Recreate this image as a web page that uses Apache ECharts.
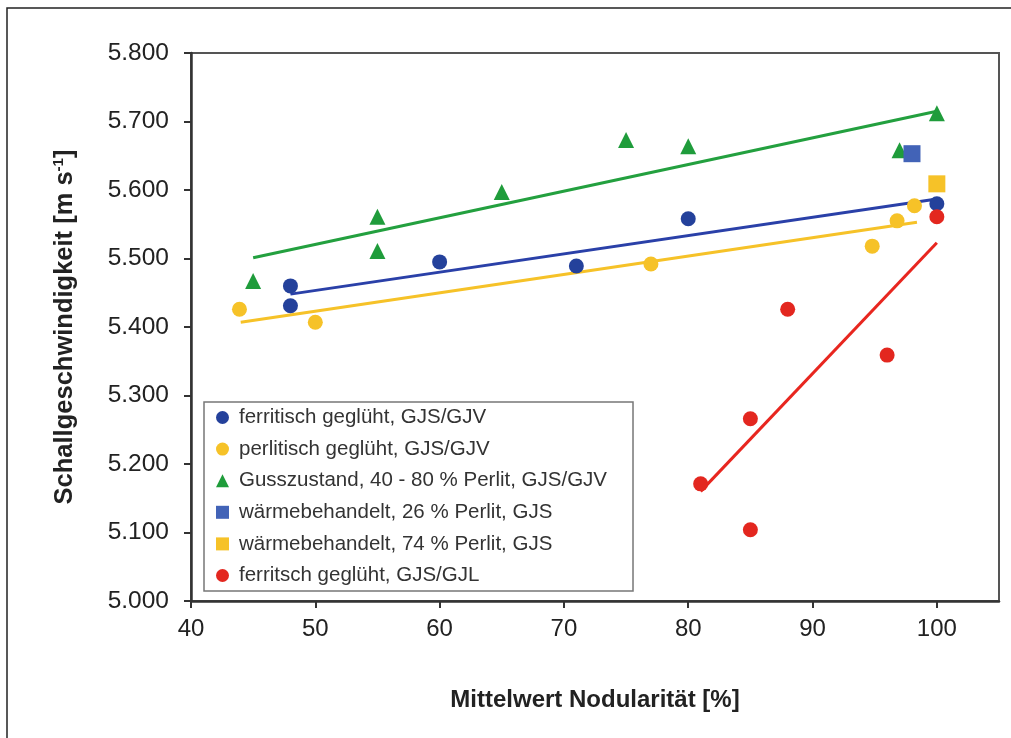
<!DOCTYPE html>
<html>
<head>
<meta charset="utf-8">
<script src="https://cdn.jsdelivr.net/npm/echarts@6/dist/echarts.min.js"></script>
<style>
  html, body { margin: 0; padding: 0; background: #fff; }
  #chart { width: 1011px; height: 738px; }
</style>
</head>
<body>
<div id="chart"></div>
<script>
// Messpunkte: [Nodularität %, Schallgeschwindigkeit m/s]
const ferritGJV = [[48, 5.460], [48, 5.431], [60, 5.495], [71, 5.489], [80, 5.558], [100, 5.580]]
const perlitGJV = [[43.9, 5.426], [50, 5.407], [77, 5.492], [94.8, 5.518], [96.8, 5.555], [98.2, 5.577]]
const gusszustand = [[45, 5.467], [55, 5.561], [55, 5.511], [65, 5.597], [75, 5.673], [80, 5.664], [97, 5.658], [100, 5.712]]
const waerme26 = [[98, 5.653]]
const waerme74 = [[100, 5.609]]
const ferritGJL = [[100, 5.561], [88, 5.426], [96, 5.359], [85, 5.266], [81, 5.171], [85, 5.104]]

// Trendlinien (Endpunkte)
const trendFerritGJV = [[48, 5.448], [100, 5.587]]
const trendPerlitGJV = [[44, 5.407], [98.4, 5.553]]
const trendGuss = [[45, 5.501], [100, 5.715]]
const trendGJL = [[81, 5.160], [100, 5.523]]

const seriesNames = [
  'ferritisch geglüht, GJS/GJV',
  'perlitisch geglüht, GJS/GJV',
  'Gusszustand, 40 - 80 % Perlit, GJS/GJV',
  'wärmebehandelt, 26 % Perlit, GJS',
  'wärmebehandelt, 74 % Perlit, GJS',
  'ferritsch geglüht, GJS/GJL'
]

const xTicks = [40, 50, 60, 70, 80, 90, 100]
const yTicks = [5.0, 5.1, 5.2, 5.3, 5.4, 5.5, 5.6, 5.7, 5.8]

const fontFamily = "'Liberation Sans', Arial, sans-serif"
const colors = {
  blue: '#24419b',
  blueSq: '#4263b7',
  yellow: '#f6c228',
  green: '#1f9c3b',
  red: '#e3271f'
}

const trendLine = (data, color) => ({
  type: 'line',
  data,
  symbol: 'none',
  silent: true,
  z: 1,
  lineStyle: { color, width: 3 }
})

const scatter = (name, data, symbol, size, color) => ({
  name,
  type: 'scatter',
  data,
  symbol,
  symbolSize: size,
  z: 3,
  itemStyle: { color, opacity: 1 }
})

const chart = echarts.init(document.getElementById('chart'), null, { renderer: 'canvas' })

chart.setOption({
  backgroundColor: '#fff',
  animation: false,
  textStyle: { fontFamily },
  graphic: [{
    type: 'rect',
    shape: { x: 7, y: 8, width: 1100, height: 800 },
    style: { fill: 'none', stroke: '#222', lineWidth: 1.5 },
    silent: true
  }],
  grid: {
    left: 191,
    top: 53,
    right: 12,
    bottom: 137,
    show: true,
    borderColor: '#555',
    borderWidth: 2
  },
  legend: {
    orient: 'vertical',
    left: 204,
    top: 402,
    data: seriesNames,
    itemWidth: 13,
    itemHeight: 13,
    itemGap: 10.6,
    padding: [5, 26, 5, 12],
    backgroundColor: '#fff',
    borderColor: '#777',
    borderWidth: 1.5,
    textStyle: {
      fontFamily,
      fontSize: 20.5,
      lineHeight: 20,
      color: '#333',
      padding: [0, 0, 0, 5]
    }
  },
  xAxis: {
    type: 'value',
    min: 40,
    max: 105,
    interval: 10,
    name: 'Mittelwert Nodularität [%]',
    nameLocation: 'middle',
    nameGap: 87,
    nameTextStyle: { fontFamily, fontSize: 24, fontWeight: 'bold', color: '#222' },
    axisLine: { show: true, lineStyle: { color: '#333', width: 2.5 } },
    axisTick: { show: true, length: 7, customValues: xTicks, lineStyle: { color: '#333', width: 2 } },
    axisLabel: { margin: 16, fontSize: 24, color: '#222', customValues: xTicks },
    splitLine: { show: false }
  },
  yAxis: {
    type: 'value',
    min: 5.0,
    max: 5.8,
    interval: 0.1,
    name: '{a|Schallgeschwindigkeit [m s}{sup|-1}{a|]}',
    nameLocation: 'middle',
    nameRotate: 90,
    nameGap: 112,
    nameTextStyle: {
      rich: {
        a: { fontFamily, fontSize: 25.5, fontWeight: 'bold', color: '#222', lineHeight: 28 },
        sup: { fontFamily, fontSize: 15, fontWeight: 'bold', color: '#222', verticalAlign: 'top', lineHeight: 28, padding: [0, 0, 12, 0] }
      }
    },
    axisLine: { show: true, lineStyle: { color: '#333', width: 2.5 } },
    axisTick: { show: true, length: 7, customValues: yTicks, lineStyle: { color: '#333', width: 2 } },
    axisLabel: {
      margin: 22,
      fontSize: 24.5,
      color: '#222',
      customValues: yTicks,
      formatter: (v) => v.toFixed(3)
    },
    splitLine: { show: false }
  },
  series: [
    trendLine(trendGuss, '#23a03f'),
    trendLine(trendFerritGJV, '#2a40a8'),
    trendLine(trendPerlitGJV, colors.yellow),
    trendLine(trendGJL, '#e8261f'),
    scatter(seriesNames[0], ferritGJV, 'circle', 15, colors.blue),
    scatter(seriesNames[1], perlitGJV, 'circle', 15, colors.yellow),
    scatter(seriesNames[2], gusszustand, 'triangle', 16, colors.green),
    scatter(seriesNames[3], waerme26, 'rect', 17, colors.blueSq),
    scatter(seriesNames[4], waerme74, 'rect', 17, colors.yellow),
    scatter(seriesNames[5], ferritGJL, 'circle', 15, colors.red)
  ]
})

window.addEventListener('resize', () => chart.resize())
</script>
</body>
</html>
